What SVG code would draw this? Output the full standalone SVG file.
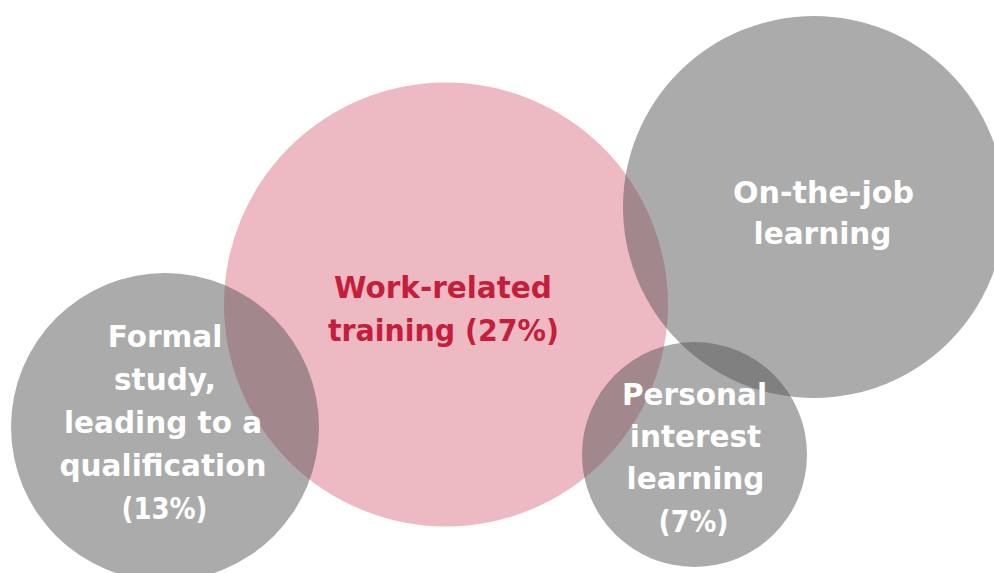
<svg xmlns="http://www.w3.org/2000/svg" width="994" height="573" viewBox="0 0 994 573">
  <style>
    .bubble-main { fill: #c41e3a; fill-opacity: 0.31; }
    .bubble { fill: #535353; fill-opacity: 0.49; }
    .label { font-family: "DejaVu Sans", "Liberation Sans", sans-serif; font-weight: 700; font-size: 29.5px; text-anchor: middle; }
    .label-main { fill: #c41e3a; }
    .label-light { fill: #ffffff; }
  </style>
  <rect width="994" height="573" fill="#ffffff"/>

  <!-- central category -->
  <g id="work-related-training">
    <circle class="bubble-main" cx="446" cy="304.5" r="222"/>
    <text class="label label-main" x="443" y="298">Work-related</text>
    <text class="label label-main" x="443.5" y="341" textLength="231" lengthAdjust="spacingAndGlyphs">training (27%)</text>
  </g>

  <g id="formal-study">
    <circle class="bubble" cx="165" cy="427" r="154"/>
    <text class="label label-light" x="165" y="346.5">Formal</text>
    <text class="label label-light" x="165" y="389.5">study,</text>
    <text class="label label-light" x="163" y="432.5">leading to a</text>
    <text class="label label-light" x="163" y="475.5">qualification</text>
    <text class="label label-light" x="164.5" y="518.5" textLength="86" lengthAdjust="spacingAndGlyphs">(13%)</text>
  </g>

  <g id="on-the-job-learning">
    <circle class="bubble" cx="814" cy="207" r="191"/>
    <text class="label label-light" x="823.5" y="203" textLength="181" lengthAdjust="spacingAndGlyphs">On-the-job</text>
    <text class="label label-light" x="822.5" y="244">learning</text>
  </g>

  <g id="personal-interest-learning">
    <circle class="bubble" cx="694.5" cy="454.5" r="112.5"/>
    <text class="label label-light" x="694.5" y="405">Personal</text>
    <text class="label label-light" x="695.5" y="447">interest</text>
    <text class="label label-light" x="695.5" y="489">learning</text>
    <text class="label label-light" x="693.5" y="531.5" textLength="70" lengthAdjust="spacingAndGlyphs">(7%)</text>
  </g>
</svg>
